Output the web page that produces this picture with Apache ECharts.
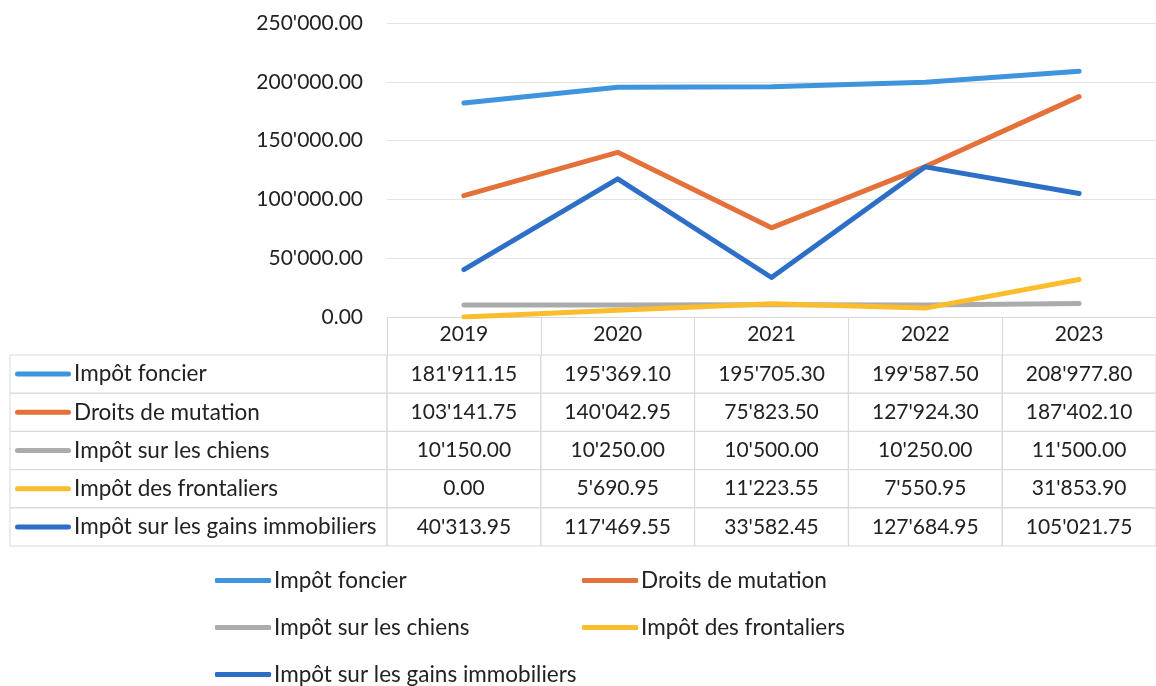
<!DOCTYPE html>
<html>
<head>
<meta charset="utf-8">
<script src="https://cdn.jsdelivr.net/npm/echarts@6/dist/echarts.min.js"></script>
<style>
  html, body { margin: 0; padding: 0; background: #fff; }
  #chart { width: 1156px; height: 686px; }
</style>
</head>
<body>
<div id="chart"></div>
<script>
var years = ["2019", "2020", "2021", "2022", "2023"];
var seriesNames = [
  "Impôt foncier",
  "Droits de mutation",
  "Impôt sur les chiens",
  "Impôt des frontaliers",
  "Impôt sur les gains immobiliers"
];
var impotFoncier = [181911.15, 195369.10, 195705.30, 199587.50, 208977.80];
var droitsMutation = [103141.75, 140042.95, 75823.50, 127924.30, 187402.10];
var impotChiens = [10150.00, 10250.00, 10500.00, 10250.00, 11500.00];
var impotFrontaliers = [0.00, 5690.95, 11223.55, 7550.95, 31853.90];
var gainsImmobiliers = [40313.95, 117469.55, 33582.45, 127684.95, 105021.75];
var colors = ["#3f94de", "#e4703a", "#a9abad", "#fbbd2e", "#2d6fc6"];

var allValues = [impotFoncier, droitsMutation, impotChiens, impotFrontaliers, gainsImmobiliers];
var FONT = "Lato";
var NUM_SIZE = 21;
var TXT_SIZE = 22.5;

function fmt(v) {
  var p = v.toFixed(2).split(".");
  return p[0].replace(/\B(?=(\d{3})+(?!\d))/g, "'") + "." + p[1];
}

// table cells: [yearIndex, rowIndex, value]
var cells = [];
allValues.forEach(function (arr, r) {
  arr.forEach(function (v, c) { cells.push([c, r, v]); });
});

var rich = { t: { fontFamily: FONT, fontSize: TXT_SIZE, color: "#222", padding: [0, 0, 0, 3] } };
colors.forEach(function (c, i) {
  rich["m" + i] = { width: 56, height: 5, backgroundColor: c, borderRadius: 3 };
});

var chart = echarts.init(document.getElementById("chart"));

var option = {
  animation: false,
  backgroundColor: "#fff",
  textStyle: { fontFamily: FONT },
  color: colors,
  grid: [
    { left: 387, right: -2, top: 23, bottom: 369 },
    { left: 387, right: -2, top: 355, height: 191 }
  ],
  legend: {
    left: 210,
    top: 552,
    width: 760,
    itemGap: 0,
    itemWidth: 56,
    itemHeight: 5,
    icon: "roundRect",
    data: seriesNames,
    textStyle: { fontFamily: FONT, fontSize: TXT_SIZE, color: "#222", width: 308, lineHeight: 47, padding: [0, 0, 0, -2] }
  },
  xAxis: [
    {
      gridIndex: 0,
      type: "category",
      data: years,
      boundaryGap: true,
      axisLine: { lineStyle: { color: "#d9d9d9", width: 1 } },
      axisTick: { show: true, length: 38, lineStyle: { color: "#d9d9d9" } },
      axisLabel: { fontFamily: FONT, fontSize: NUM_SIZE, color: "#222", margin: 7 }
    },
    {
      gridIndex: 1,
      type: "category",
      data: years,
      show: false
    }
  ],
  yAxis: [
    {
      gridIndex: 0,
      type: "value",
      min: 0,
      max: 250000,
      interval: 50000,
      axisLine: { show: false },
      axisTick: { show: false },
      splitLine: { lineStyle: { color: "#e3e3e3" } },
      axisLabel: {
        fontFamily: FONT, fontSize: NUM_SIZE, color: "#222", margin: 24,
        formatter: function (v) { return fmt(v); }
      }
    },
    {
      gridIndex: 1,
      type: "category",
      data: seriesNames,
      inverse: true,
      axisLine: { show: false },
      axisTick: { show: false },
      axisLabel: {
        align: "left",
        margin: 372,
        formatter: function (v, i) { return "{m" + i + "|}{t|" + v + "}"; },
        rich: rich
      }
    }
  ],
  series: [
    { name: seriesNames[0], type: "line", data: impotFoncier },
    { name: seriesNames[1], type: "line", data: droitsMutation },
    { name: seriesNames[2], type: "line", data: impotChiens },
    { name: seriesNames[3], type: "line", data: impotFrontaliers },
    { name: seriesNames[4], type: "line", data: gainsImmobiliers },
    {
      type: "custom",
      xAxisIndex: 1,
      yAxisIndex: 1,
      data: cells,
      renderItem: function (params, api) {
        var xi = api.value(0), yi = api.value(1);
        var c = api.coord([xi, yi]);
        var s = api.size([1, 1]);
        var cs = params.coordSys;
        var border = { fill: null, stroke: "#d9d9d9", lineWidth: 1 };
        var children = [
          { type: "rect", shape: { x: c[0] - s[0] / 2, y: c[1] - s[1] / 2, width: s[0], height: s[1] }, style: border },
          { type: "text", style: { text: fmt(api.value(2)), x: c[0], y: c[1], align: "center", verticalAlign: "middle", fill: "#222", font: NUM_SIZE + "px " + FONT } }
        ];
        if (xi === 0) {
          children.push({ type: "rect", shape: { x: 10, y: c[1] - s[1] / 2, width: cs.x - 10, height: s[1] }, style: border });
        }
        return { type: "group", children: children };
      }
    }
  ]
};

option.series.forEach(function (s) {
  if (s.type === "line") {
    s.xAxisIndex = 0;
    s.yAxisIndex = 0;
    s.showSymbol = false;
    s.symbol = "none";
    s.lineStyle = { width: 5, cap: "round", join: "round" };
  }
});

chart.setOption(option);
</script>
</body>
</html>
